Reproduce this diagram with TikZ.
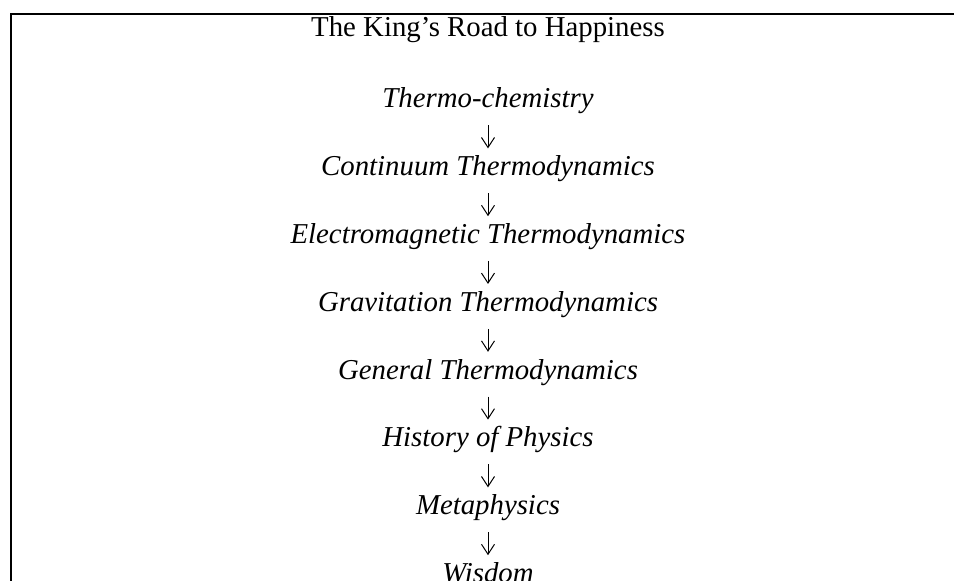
\documentclass[tikz,border=0pt]{standalone}
\usepackage{fontspec}
\setmainfont{Liberation Serif}
\usetikzlibrary{arrows.meta,positioning}

\begin{document}
\begin{tikzpicture}[font=\fontsize{14.4pt}{16.8pt}\selectfont, node distance=11.5pt,
  topic/.style={font=\fontsize{14.4pt}{16.8pt}\selectfont\itshape, inner sep=0pt, text height=13.5pt,
  text depth=8.5pt}, arr/.style={-{Straight Barb[length=5pt,width=6.5pt]}, line width=0.5pt},
  frame/.style={line width=1.1pt}]
\useasboundingbox (0,0) rectangle (477pt,-290.5pt);
\coordinate (fbl) at (5.5pt,-290.5pt); \coordinate (ftl) at (5.5pt,-7pt); \coordinate (ftr) at (477pt,-7pt);
\draw[frame] (fbl) -- (ftl) -- (ftr);
\node[inner sep=0pt, anchor=base] (title) at (244pt,-18.5pt) {The King’s Road to Happiness};
\node[topic, anchor=base] (thermo) at ([yshift=-35.5pt]title.base) {Thermo-chemistry};
\node[topic, below=of thermo] (cont) {Continuum Thermodynamics};
\node[topic, below=of cont] (elec) {Electromagnetic Thermodynamics};
\node[topic, below=of elec] (grav) {Gravitation Thermodynamics};
\node[topic, below=of grav] (gen) {General Thermodynamics};
\node[topic, below=of gen] (hist) {History of Physics};
\node[topic, below=of hist] (meta) {Metaphysics};
\node[topic, below=of meta] (wis) {Wisdom};
\draw[arr] (thermo) -- (cont); \draw[arr] (cont) -- (elec);
\draw[arr] (elec) -- (grav); \draw[arr] (grav) -- (gen);
\draw[arr] (gen) -- (hist); \draw[arr] (hist) -- (meta);
\draw[arr] (meta) -- (wis);
\end{tikzpicture}
\end{document}
